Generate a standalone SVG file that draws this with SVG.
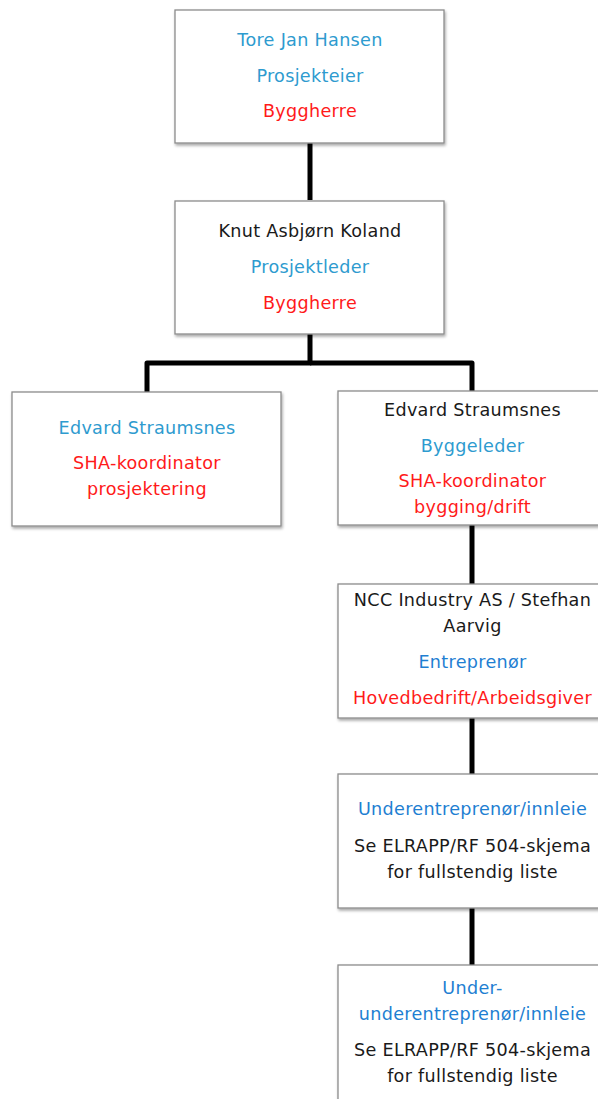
<svg xmlns="http://www.w3.org/2000/svg" width="598" height="1099" viewBox="0 0 598 1099">
<defs>
<filter id="sh" x="-10%" y="-10%" width="130%" height="130%">
<feGaussianBlur in="SourceAlpha" stdDeviation="1.5"/>
<feOffset dx="1" dy="2"/>
<feComponentTransfer><feFuncA type="linear" slope="0.35"/></feComponentTransfer>
<feMerge><feMergeNode/><feMergeNode in="SourceGraphic"/></feMerge>
</filter>
</defs>
<style>
.box{fill:#fff;stroke:#8c8c8c;stroke-width:1.3;filter:url(#sh)}
text{font-family:"DejaVu Sans","Liberation Sans",sans-serif;font-size:17.6px;letter-spacing:0.3px;text-anchor:middle}
.b{fill:#2e9bcf}
.b2{fill:#1f7fd2}
.r{fill:#ff1a1a}
.k{fill:#1a1a1a}
.c{fill:none;stroke:#000;stroke-width:5;stroke-linejoin:round}
</style>
<g id="connectors">
<path class="c" d="M310 143V200"/>
<path class="c" d="M310 334V363H147V392"/>
<path class="c" d="M310 363H472V391"/>
<path class="c" d="M472 525V584"/>
<path class="c" d="M472 718V774"/>
<path class="c" d="M472 908V965"/>
</g>
<g id="n1">
<rect class="box" x="175" y="10" width="269" height="133"/>
<text class="b" x="310" y="46">Tore Jan Hansen</text>
<text class="b" x="310" y="82">Prosjekteier</text>
<text class="r" x="310" y="117">Byggherre</text>
</g>
<g id="n2">
<rect class="box" x="175" y="201" width="269" height="133"/>
<text class="k" x="310" y="237">Knut Asbjørn Koland</text>
<text class="b" x="310" y="273">Prosjektleder</text>
<text class="r" x="310" y="309">Byggherre</text>
</g>
<g id="n3">
<rect class="box" x="12" y="392" width="269" height="134"/>
<text class="b" x="147" y="434">Edvard Straumsnes</text>
<text class="r" x="147" y="469">SHA-koordinator</text>
<text class="r" x="147" y="495">prosjektering</text>
</g>
<g id="n4">
<rect class="box" x="338" y="391" width="269" height="134"/>
<text class="k" x="472.5" y="416">Edvard Straumsnes</text>
<text class="b" x="472.5" y="452">Byggeleder</text>
<text class="r" x="472.5" y="487">SHA-koordinator</text>
<text class="r" x="472.5" y="513">bygging/drift</text>
</g>
<g id="n5">
<rect class="box" x="338" y="584" width="269" height="134"/>
<text class="k" x="472.5" y="606">NCC Industry AS / Stefhan</text>
<text class="k" x="472.5" y="632">Aarvig</text>
<text class="b2" x="472.5" y="668">Entreprenør</text>
<text class="r" x="472.5" y="704">Hovedbedrift/Arbeidsgiver</text>
</g>
<g id="n6">
<rect class="box" x="338" y="774" width="269" height="134"/>
<text class="b2" x="472.5" y="815">Underentreprenør/innleie</text>
<text class="k" x="472.5" y="852">Se ELRAPP/RF 504-skjema</text>
<text class="k" x="472.5" y="878">for fullstendig liste</text>
</g>
<g id="n7">
<rect class="box" x="338" y="965" width="269" height="140"/>
<text class="b2" x="472.5" y="994">Under-</text>
<text class="b2" x="472.5" y="1020">underentreprenør/innleie</text>
<text class="k" x="472.5" y="1056">Se ELRAPP/RF 504-skjema</text>
<text class="k" x="472.5" y="1082">for fullstendig liste</text>
</g>
</svg>
